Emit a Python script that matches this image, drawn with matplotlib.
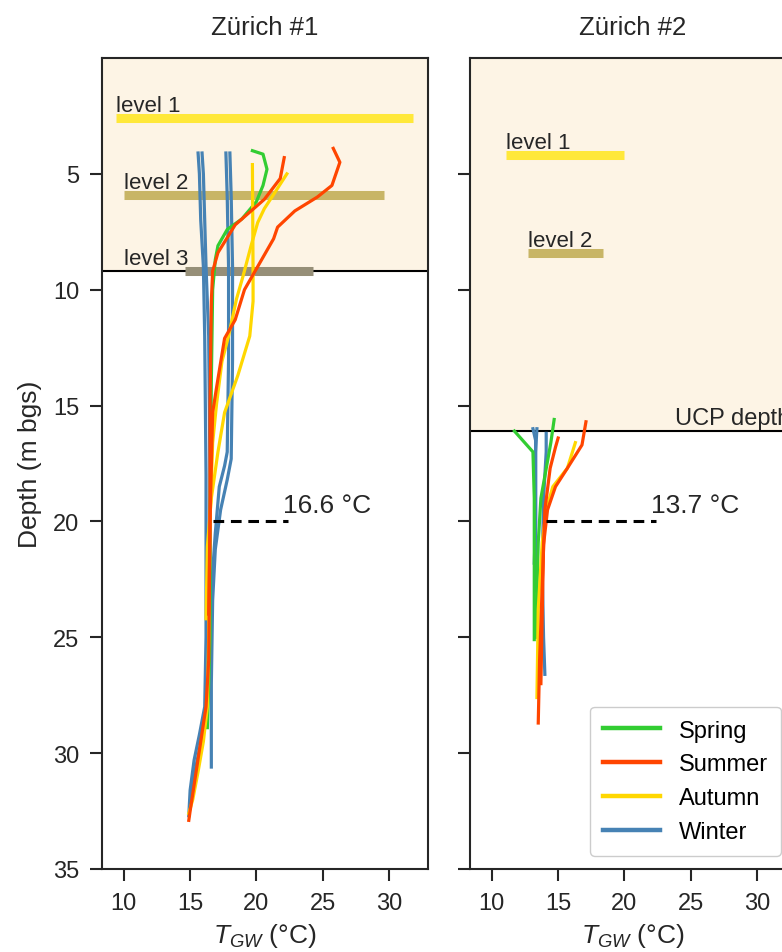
import matplotlib
matplotlib.use("Agg")
import matplotlib.pyplot as plt

plt.rcParams['font.family'] = ['Liberation Sans', 'DejaVu Sans']
plt.rcParams['mathtext.fontset'] = 'custom'
plt.rcParams['mathtext.rm'] = 'Liberation Sans'
plt.rcParams['mathtext.it'] = 'Liberation Sans:italic'

# ---- data ----
titles = ['Zürich #1', 'Zürich #2']
seasons = ['Spring', 'Summer', 'Autumn', 'Winter']
colors = {'Spring': '#32CD32', 'Summer': '#FF4500', 'Autumn': '#FFD700', 'Winter': '#4682B4'}

# profiles: season -> list of (temperature, depth) lists
site1 = {
    'Winter': [
        ([15.6, 15.7, 15.8, 16.0, 16.1, 16.2, 16.2, 16.1, 15.7, 15.3, 15.0, 14.9],
         [4.1, 5, 7, 9, 12, 18, 25, 28, 29.2, 30.3, 31.6, 32.7]),
        ([15.9, 16.0, 16.1, 16.2, 16.4, 16.5, 16.5, 16.3, 15.9, 15.5, 15.1, 15.0],
         [4.1, 5, 7, 9, 12, 18, 25, 28, 29.3, 30.4, 31.5, 32.3]),
        ([17.7, 17.8, 17.9, 17.9, 17.8, 17.6, 17.2, 16.9, 16.6, 16.5],
         [4.1, 6, 9, 13, 17, 17.6, 18.5, 20.5, 23, 25]),
        ([18.0, 18.1, 18.2, 18.2, 18.1, 17.8, 17.3, 16.9, 16.7, 16.6, 16.6],
         [4.1, 6, 9, 13, 17.3, 18.2, 19.5, 21.2, 23.4, 27, 30.6]),
    ],
    'Spring': [
        ([19.7, 20.5, 20.8, 20.5, 20.0, 18.9, 17.8, 17.1, 16.9, 16.7, 16.6, 16.5, 16.5, 16.4, 16.3],
         [4.0, 4.15, 4.8, 5.5, 6.2, 6.95, 7.4, 8.1, 8.7, 10, 14, 20, 25, 27, 28.9]),
    ],
    'Autumn': [
        ([19.7, 19.75, 19.75, 19.5, 18.6, 17.6, 17.1, 16.6, 16.3, 16.2],
         [4.6, 9.25, 10.5, 12.0, 13.7, 15.3, 17.0, 19.0, 21.1, 24.2]),
        ([22.3, 21.4, 20.6, 20.1, 19.6, 19.0, 18.5, 17.9, 17.4, 17.0, 16.7, 16.5, 16.4, 16.3, 16.0, 15.6, 15.2, 14.9],
         [5.0, 5.8, 6.5, 7.1, 8.1, 9.4, 10.4, 12.0, 13.1, 14.9, 16.6, 20, 25, 28, 29.5, 30.8, 32.0, 32.6]),
    ],
    'Summer': [
        ([22.1, 21.8, 20.6, 18.4, 17.1, 16.7, 16.6, 16.5, 16.5, 16.4, 16.2, 15.8, 15.4, 15.0, 14.9],
         [4.3, 5.2, 6.1, 7.2, 8.4, 9.2, 10.5, 15, 20, 26, 28, 29.5, 31, 32.5, 32.9]),
        ([25.8, 26.3, 25.7, 24.6, 22.9, 21.6, 21.3, 20.4, 19.7, 19.1, 18.4, 17.6, 17.0, 16.7, 16.5, 16.4],
         [3.9, 4.5, 5.5, 6.0, 6.6, 7.3, 7.8, 8.7, 9.4, 10.0, 11.3, 12.1, 14.2, 15.3, 20, 24.0]),
    ],
}

site2 = {
    'Winter': [
        ([13.1, 13.3, 13.3, 13.2], [16.0, 16.5, 20, 21.8]),
        ([13.4, 13.3, 13.3, 13.3], [16.0, 17, 20, 23]),
        ([14.1, 14.1, 13.9, 13.8, 13.9, 14.0], [16.2, 17, 19, 22, 25, 26.6]),
    ],
    'Spring': [
        ([11.7, 13.1, 13.2, 13.2, 13.2], [16.1, 17.0, 19, 23, 25.1]),
        ([14.7, 14.45, 13.7, 13.5, 13.4, 13.3], [15.6, 16.6, 19.0, 20.9, 23, 25.0]),
    ],
    'Autumn': [
        ([16.3, 15.7, 14.6, 14.1, 13.8, 13.5, 13.4], [16.6, 17.7, 18.5, 19.5, 20.9, 23.8, 27.6]),
    ],
    'Summer': [
        ([17.1, 16.8, 15.7, 14.8, 14.2, 13.9, 13.8, 13.7], [15.7, 16.7, 17.7, 18.5, 19.5, 21, 24, 27]),
        ([15.0, 14.8, 14.4, 14.0, 13.85, 13.6, 13.5], [16.4, 16.8, 17.7, 19.5, 22, 26, 28.7]),
    ],
}

ucp_depth = [9.2, 16.1]
level_names = [['level 1', 'level 2', 'level 3'], ['level 1', 'level 2']]
level_depth = [[2.6, 5.9, 9.2], [4.2, 8.4]]
level_tmin = [[9.4, 10.0, 14.6], [11.06, 12.7]]
level_tmax = [[31.8, 29.6, 24.3], [20.0, 18.4]]
level_text_x = [[9.4, 10.0, 10.0], [11.06, 12.7]]
level_colors = ['#FFE83A', '#C8B566', '#968F78']

mean_temp = [16.6, 13.7]
mean_depth = 20
mean_line_start = [16.7, 14.1]
mean_line_end = 22.4

# ---- figure ----
fig = plt.figure(figsize=(7.82, 9.53), dpi=100)
ax1 = fig.add_axes([102 / 782, 83 / 953, 326 / 782, 811 / 953])
ax2 = fig.add_axes([470 / 782, 83 / 953, 326 / 782, 811 / 953], sharey=ax1)
axes = [ax1, ax2]
sites = [site1, site2]
ink = '#262626'

for i, ax in enumerate(axes):
    ax.axhspan(0, ucp_depth[i], color='#FDF4E5', zorder=0)
    ax.axhline(ucp_depth[i], color='black', lw=1.5, zorder=1)

    for j, name in enumerate(level_names[i]):
        ax.plot([level_tmin[i][j], level_tmax[i][j]], [level_depth[i][j]] * 2,
                color=level_colors[j], lw=6.5, solid_capstyle='butt', zorder=2)
        ax.text(level_text_x[i][j], level_depth[i][j] - 0.3, name,
                fontsize=16, color=ink, va='baseline', ha='left', zorder=3)

    for season in ['Winter', 'Spring', 'Autumn', 'Summer']:
        for temps, depths in sites[i][season]:
            ax.plot(temps, depths, color=colors[season], lw=2.3, zorder=4)

    ax.plot([mean_line_start[i], mean_line_end], [mean_depth, mean_depth],
            color='black', lw=2.2, ls=(0, (3.5, 2.2)), zorder=5)
    ax.text(22.0, mean_depth - 0.4, '%.1f °C' % mean_temp[i], fontsize=19,
            color=ink, va='baseline', ha='left')

    ax.set_xlim(8.35, 32.95)
    ax.set_xticks([10, 15, 20, 25, 30])
    ax.set_title(titles[i], fontsize=18.5, pad=17, color=ink)
    ax.set_xlabel('$T_{GW}$ (°C)', fontsize=19, color=ink, labelpad=5)
    ax.tick_params(axis='both', labelsize=17, length=8.5, width=1.5,
                   colors=ink, direction='out', pad=8)
    for sp in ax.spines.values():
        sp.set_color(ink)
        sp.set_linewidth(1.5)

ax2.text(23.8, ucp_depth[1] - 0.3, 'UCP depth', fontsize=17, color=ink,
         va='baseline', ha='left')

ax1.set_ylim(35, 0)
ax1.set_yticks([5, 10, 15, 20, 25, 30, 35])
ax1.set_ylabel('Depth (m bgs)', fontsize=19, color=ink, labelpad=8)
plt.setp(ax2.get_yticklabels(), visible=False)

handles = [plt.Line2D([], [], color=colors[s], lw=3.2) for s in seasons]
fig.legend(handles, seasons, loc='lower right',
           bbox_to_anchor=(781 / 782, 96 / 953), bbox_transform=fig.transFigure,
           fontsize=17, handlelength=2.4, labelspacing=0.5, borderpad=0.55,
           handletextpad=0.8, borderaxespad=0, frameon=True, fancybox=True,
           framealpha=1, edgecolor='#CCCCCC')

fig.savefig('out.png', dpi=100)
